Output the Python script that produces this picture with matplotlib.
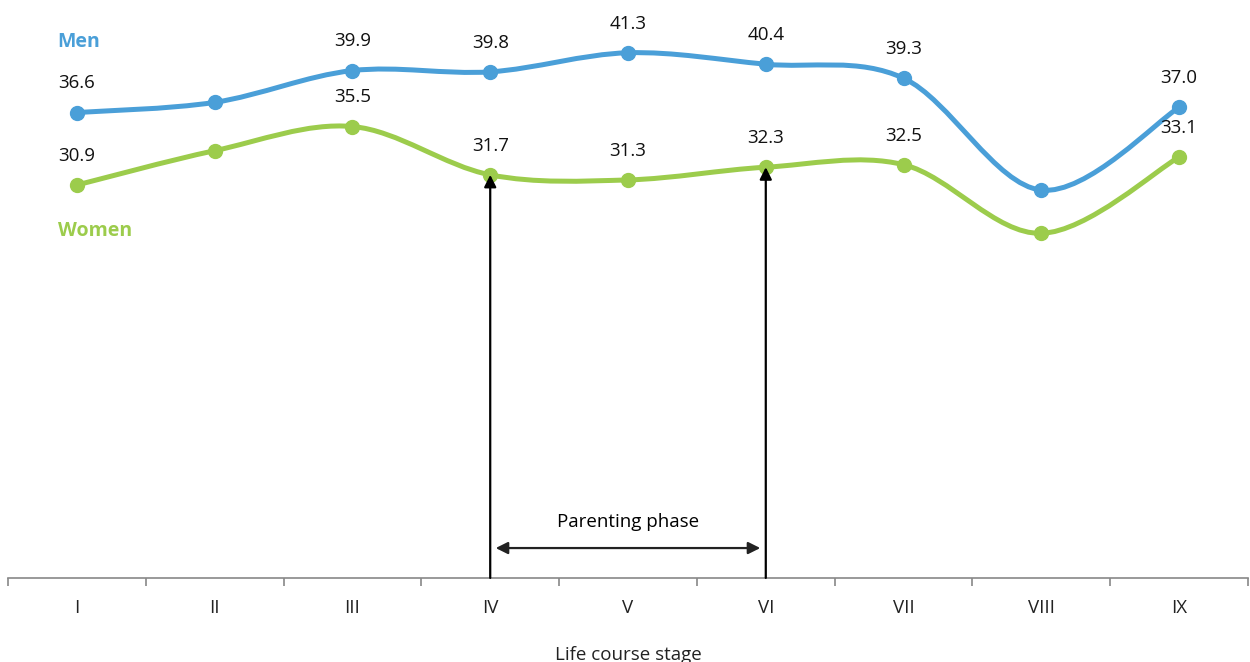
import numpy as np
import matplotlib.pyplot as plt
from matplotlib.path import Path
from matplotlib.patches import PathPatch

plt.rcParams['font.family'] = ['Open Sans', 'DejaVu Sans']

stages = ['I', 'II', 'III', 'IV', 'V', 'VI', 'VII', 'VIII', 'IX']
men = [36.6, 37.4, 39.9, 39.8, 41.3, 40.4, 39.3, 30.5, 37.0]
women = [30.9, 33.6, 35.5, 31.7, 31.3, 32.3, 32.5, 27.1, 33.1]
men_labels = ['36.6', '', '39.9', '39.8', '41.3', '40.4', '39.3', '', '37.0']
women_labels = ['30.9', '', '35.5', '31.7', '31.3', '32.3', '32.5', '', '33.1']

blue = '#4a9fd8'
green = '#9ccc4c'


def smooth_path(x, y):
    # excel style smoothed line: cubic bezier through the points
    pts = np.column_stack([x, y]).astype(float)
    n = len(pts)
    verts = [pts[0]]
    codes = [Path.MOVETO]
    for i in range(n - 1):
        p0 = pts[i - 1] if i > 0 else pts[i]
        p1 = pts[i]
        p2 = pts[i + 1]
        p3 = pts[i + 2] if i + 2 < n else pts[i + 1]
        c1 = p1 + (p2 - p0) / 6
        c2 = p2 - (p3 - p1) / 6
        verts += [c1, c2, p2]
        codes += [Path.CURVE4] * 3
    return Path(verts, codes)


fig = plt.figure(figsize=(12.5, 6.62), dpi=100)
ax = fig.add_axes([0.0064, 0.127, 0.992, 0.873])
x = np.arange(len(stages))

for vals, col in [(men, blue), (women, green)]:
    ax.add_patch(PathPatch(smooth_path(x, vals), facecolor='none', edgecolor=col,
                           lw=3.6, capstyle='round', zorder=3))
    ax.plot(x, vals, 'o', color=col, ms=10, zorder=4)

for vals, labs in [(men, men_labels), (women, women_labels)]:
    for xi, v, lab in zip(x, vals, labs):
        if lab:
            ax.annotate(lab, (xi, v), xytext=(0, 21), textcoords='offset points',
                        ha='center', va='center', fontsize=13.5, color='#111111')

ax.text(-0.14, 42.15, 'Men', color=blue, fontsize=14, fontweight='bold', va='center')
ax.text(-0.14, 27.25, 'Women', color=green, fontsize=14, fontweight='bold', va='center')

# parenting phase arrows
for i in [3, 5]:
    ax.annotate('', xy=(i, women[i]), xytext=(i, 0),
                arrowprops=dict(arrowstyle='-|>', color='black', lw=1.6,
                                mutation_scale=18, shrinkA=0, shrinkB=0), zorder=5)
ax.annotate('', xy=(3.04, 2.35), xytext=(4.96, 2.35),
            arrowprops=dict(arrowstyle='<|-|>', color='#222222', lw=1.6,
                            mutation_scale=18, shrinkA=0, shrinkB=0))
ax.text(4, 4.4, 'Parenting phase', ha='center', va='center', fontsize=13.5)

ax.set_xlim(-0.5, 8.5)
ax.set_ylim(0, 45.45)
for s in ['top', 'right', 'left']:
    ax.spines[s].set_visible(False)
ax.spines['bottom'].set_color('#888888')
ax.spines['bottom'].set_linewidth(1.2)
ax.set_yticks([])
ax.set_xticks(x)
ax.set_xticklabels(stages, fontsize=13.5, color='#222222')
ax.set_xticks(np.arange(-0.5, 9, 1), minor=True)
ax.tick_params(axis='x', which='major', length=0, pad=15)
ax.tick_params(axis='x', which='minor', length=6, color='#888888', width=1.2)
ax.set_xlabel('Life course stage', fontsize=13.5, labelpad=21, color='#222222')

fig.savefig('out.png', dpi=100)
